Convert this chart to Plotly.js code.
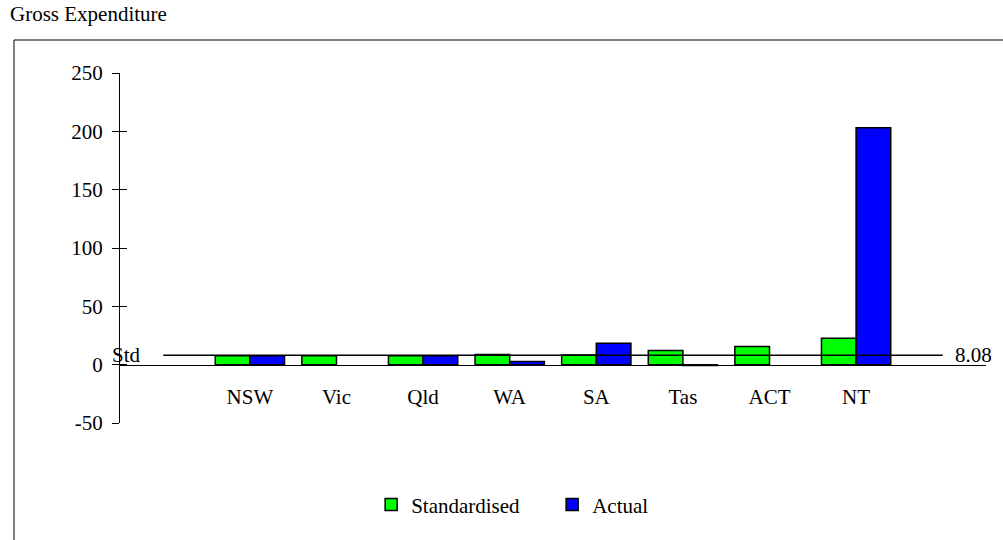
<!DOCTYPE html>
<html>
<head>
<meta charset="utf-8">
<script src="https://cdn.plot.ly/plotly-3.0.1.min.js"></script>
<style>html,body{margin:0;padding:0;background:#fff;}#chart{width:1003px;height:540px;}</style>
</head>
<body>
<div id="chart"></div>
<script>
var states = ["NSW", "Vic", "Qld", "WA", "SA", "Tas", "ACT", "NT"];
var standardised = [7.6, 7.6, 7.6, 8.7, 8.3, 12.1, 15.6, 22.6];
var actual = [7.7, null, 7.6, 2.7, 18.3, -0.8, null, 203];
var stdValue = 8.08;
var stdLabel = "Std";
var yTicks = [-50, 0, 50, 100, 150, 200, 250];
var yTickText = ["-50", "0", "50", "100", "150", "200", "250"];

var font = {family: "Liberation Serif, Times New Roman, serif", size: 21, color: "#000"};

var traces = [
  {type: "bar", name: "Standardised", x: states, y: standardised,
   marker: {color: "#00ff00", line: {color: "#000", width: 1.5}}},
  {type: "bar", name: "Actual", x: states, y: actual,
   marker: {color: "#0000ff", line: {color: "#000", width: 1.5}}},
  {type: "scatter", x: [], y: [], yaxis: "y2", showlegend: false, hoverinfo: "skip"}
];

var layout = {
  width: 1003, height: 540,
  margin: {l: 120, r: 17, t: 73, b: 117},
  paper_bgcolor: "#fff", plot_bgcolor: "rgba(0,0,0,0)",
  font: font,
  title: {text: "Gross Expenditure", font: font, xref: "container", yref: "container",
          x: 10/1003, xanchor: "left", y: 1 - 14/540, yanchor: "middle"},
  barmode: "group", bargap: 0.2, bargroupgap: 0,
  showlegend: true,
  legend: {orientation: "h", x: 0.29, xanchor: "left", y: -0.234, yanchor: "middle",
           font: font, entrywidth: 136, entrywidthmode: "pixels", bgcolor: "rgba(0,0,0,0)"},
  xaxis: {type: "category", range: [-1.5, 8.5], anchor: "free", position: 50/300,
          showline: true, linecolor: "#000", linewidth: 1, ticks: "", showgrid: false,
          zeroline: false, ticklabelstandoff: 13, tickfont: font, fixedrange: true},
  yaxis: {range: [-50, 250], tickvals: yTicks, ticktext: yTickText, ticks: "outside", ticklen: 7, tickcolor: "#000",
          showline: true, linecolor: "#000", linewidth: 1, showgrid: false, zeroline: false,
          tickfont: font, ticklabelstandoff: 5, fixedrange: true},
  yaxis2: {overlaying: "y", range: [-50, 250], tickvals: yTicks, ticks: "inside", ticklen: 7,
           tickcolor: "#000", showticklabels: false, showline: false, showgrid: false,
           zeroline: false, side: "left", fixedrange: true},
  shapes: [
    {type: "line", xref: "x", yref: "y", x0: -1, x1: 8, y0: stdValue, y1: stdValue,
     line: {color: "#000", width: 1.5}},
    {type: "rect", xref: "paper", yref: "paper", x0: (14-120)/866, x1: 1.05,
     y0: -0.4, y1: (423-40)/350, line: {color: "#000", width: 1}, fillcolor: "rgba(0,0,0,0)"}
  ],
  annotations: [
    {xref: "x", yref: "y", x: -1, y: stdValue, text: stdLabel, showarrow: false,
     xanchor: "right", yanchor: "middle", xshift: -20, font: font},
    {xref: "x", yref: "y", x: 8, y: stdValue, text: stdValue.toFixed(2), showarrow: false,
     xanchor: "left", yanchor: "middle", xshift: 10, font: font}
  ]
};

Plotly.newPlot("chart", traces, layout, {displayModeBar: false, staticPlot: true});
</script>
</body>
</html>
